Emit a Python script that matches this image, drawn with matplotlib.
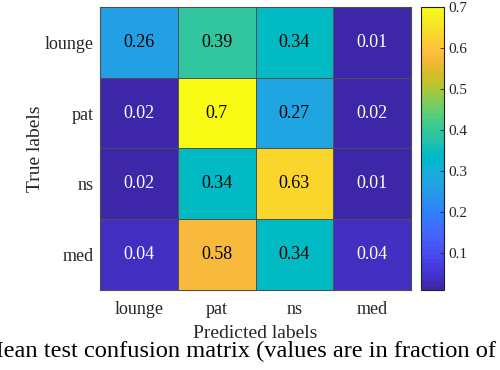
import numpy as np
import matplotlib
matplotlib.use("Agg")
import matplotlib.pyplot as plt
from matplotlib.colors import ListedColormap, Normalize

# Data
true_labels = ["lounge", "pat", "ns", "med"]
pred_labels = ["lounge", "pat", "ns", "med"]
row_lounge = [0.26, 0.39, 0.34, 0.01]
row_pat = [0.02, 0.70, 0.27, 0.02]
row_ns = [0.02, 0.34, 0.63, 0.01]
row_med = [0.04, 0.58, 0.34, 0.04]
cell_text = [["0.26", "0.39", "0.34", "0.01"],
             ["0.02", "0.7", "0.27", "0.02"],
             ["0.02", "0.34", "0.63", "0.01"],
             ["0.04", "0.58", "0.34", "0.04"]]
cbar_ticks = [0.1, 0.2, 0.3, 0.4, 0.5, 0.6, 0.7]

parula_data = [
    [0.2422, 0.1504, 0.6603], [0.2504, 0.1650, 0.7076], [0.2578, 0.1818, 0.7511],
    [0.2647, 0.1978, 0.7952], [0.2706, 0.2147, 0.8364], [0.2751, 0.2342, 0.8710],
    [0.2783, 0.2559, 0.8991], [0.2803, 0.2782, 0.9221], [0.2813, 0.3006, 0.9414],
    [0.2810, 0.3228, 0.9579], [0.2795, 0.3447, 0.9717], [0.2760, 0.3667, 0.9829],
    [0.2699, 0.3892, 0.9906], [0.2602, 0.4123, 0.9952], [0.2440, 0.4358, 0.9988],
    [0.2206, 0.4603, 0.9973], [0.1963, 0.4847, 0.9892], [0.1834, 0.5074, 0.9798],
    [0.1786, 0.5289, 0.9682], [0.1764, 0.5499, 0.9520], [0.1687, 0.5703, 0.9359],
    [0.1540, 0.5902, 0.9218], [0.1460, 0.6091, 0.9079], [0.1380, 0.6276, 0.8973],
    [0.1248, 0.6459, 0.8883], [0.1113, 0.6635, 0.8763], [0.0952, 0.6798, 0.8598],
    [0.0689, 0.6948, 0.8394], [0.0297, 0.7082, 0.8163], [0.0036, 0.7203, 0.7917],
    [0.0067, 0.7312, 0.7660], [0.0433, 0.7411, 0.7394], [0.0964, 0.7500, 0.7120],
    [0.1408, 0.7584, 0.6842], [0.1717, 0.7670, 0.6554], [0.1938, 0.7758, 0.6251],
    [0.2161, 0.7843, 0.5923], [0.2470, 0.7918, 0.5567], [0.2906, 0.7973, 0.5188],
    [0.3406, 0.8008, 0.4789], [0.3909, 0.8029, 0.4354], [0.4456, 0.8024, 0.3909],
    [0.5044, 0.7993, 0.3480], [0.5616, 0.7942, 0.3045], [0.6174, 0.7876, 0.2612],
    [0.6720, 0.7793, 0.2227], [0.7242, 0.7698, 0.1910], [0.7738, 0.7598, 0.1646],
    [0.8203, 0.7498, 0.1535], [0.8634, 0.7406, 0.1596], [0.9035, 0.7330, 0.1774],
    [0.9393, 0.7288, 0.2100], [0.9728, 0.7298, 0.2394], [0.9956, 0.7434, 0.2371],
    [0.9970, 0.7659, 0.2199], [0.9952, 0.7893, 0.2028], [0.9892, 0.8136, 0.1885],
    [0.9786, 0.8386, 0.1766], [0.9676, 0.8639, 0.1643], [0.9610, 0.8890, 0.1537],
    [0.9597, 0.9135, 0.1423], [0.9628, 0.9373, 0.1265], [0.9691, 0.9606, 0.1060],
    [0.9769, 0.9839, 0.0805]]
parula = ListedColormap(parula_data, name="parula")

plt.rcParams['font.family'] = ['Liberation Serif', 'DejaVu Serif']

M = np.array([row_lounge, row_pat, row_ns, row_med])

fig = plt.figure(figsize=(5.0, 3.7), dpi=100)
ax = fig.add_axes([0.2, 0.2162, 0.622, 0.7650])
cax = fig.add_axes([0.842, 0.2162, 0.046, 0.7650])

norm = Normalize(vmin=0.01, vmax=0.7)
edge = '#505050'
mesh = ax.pcolormesh(M, cmap=parula, norm=norm, edgecolors=edge, linewidth=0.6)
ax.set_xlim(0, 4)
ax.set_ylim(4, 0)
ax.set_xticks(np.arange(4) + 0.5)
ax.set_xticklabels(pred_labels)
ax.set_yticks(np.arange(4) + 0.5)
ax.set_yticklabels(true_labels)
ax.tick_params(axis='y', length=0, labelsize=13, colors='#262626', pad=4.3)
ax.tick_params(axis='x', length=0, labelsize=13, colors='#262626', pad=8)
for s in ax.spines.values():
    s.set_color(edge)
    s.set_linewidth(0.8)

for i in range(4):
    for j in range(4):
        v = M[i, j]
        col = 'white' if v < 0.1 else 'black'
        ax.text(j + 0.5, i + 0.5, cell_text[i][j], ha='center', va='center',
                fontsize=13, color=col)

ax.set_xlabel("Predicted labels", fontsize=14, color='#262626', labelpad=5)
ax.set_ylabel("True labels", fontsize=14, color='#262626', labelpad=1)

cb = fig.colorbar(mesh, cax=cax)
cb.set_ticks(cbar_ticks)
cb.set_ticklabels(["0.1", "0.2", "0.3", "0.4", "0.5", "0.6", "0.7"])
cax.tick_params(direction='in', length=3, width=0.6, labelsize=11,
                colors='#262626', pad=3)
cb.outline.set_edgecolor('#202020')
cb.outline.set_linewidth(0.8)

fig.text(-0.036, 0.035, "Mean test confusion matrix (values are in fraction of",
         ha='left', va='baseline', fontsize=17.6, color='black')

fig.savefig("out.png", dpi=100)
